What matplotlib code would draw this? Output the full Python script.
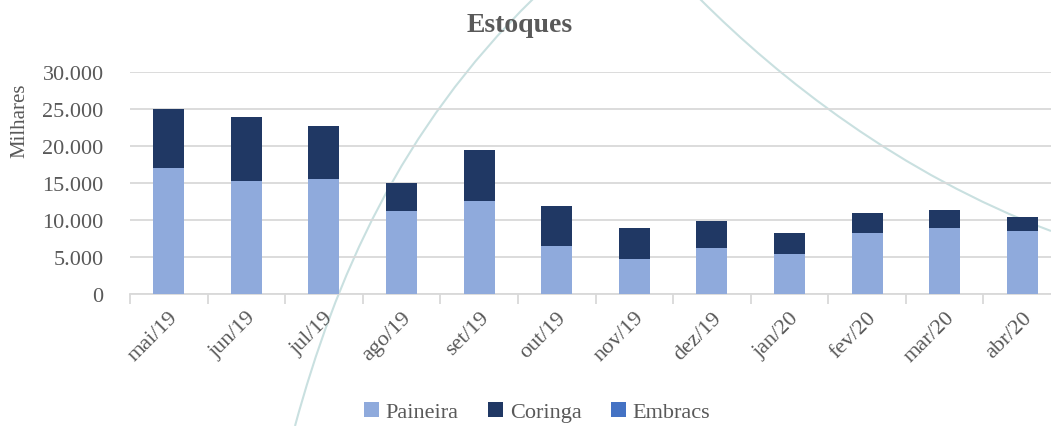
import numpy as np
import matplotlib
matplotlib.use('Agg')
import matplotlib.pyplot as plt
from matplotlib.path import Path
from matplotlib.patches import PathPatch
from matplotlib.ticker import FuncFormatter, FixedLocator

plt.rcParams['font.family'] = ['Liberation Serif', 'DejaVu Serif']

meses = ['mai/19', 'jun/19', 'jul/19', 'ago/19', 'set/19', 'out/19',
         'nov/19', 'dez/19', 'jan/20', 'fev/20', 'mar/20', 'abr/20']
paineira = [17000, 15250, 15500, 11150, 12550, 6500, 4750, 6250, 5350, 8200, 8850, 8450]
coringa = [8000, 8650, 7150, 3850, 6950, 5350, 4100, 3600, 2850, 2750, 2550, 1950]
embracs = [0, 0, 0, 0, 0, 0, 0, 0, 0, 0, 0, 0]

# background decoration of the slide: two bezier arcs (pixel coords)
arco1 = [(295, 427), (335, 280), (400, 130), (533, 0)]
arco2 = [(700, 0), (780, 80), (900, 175), (1051, 232)]

cinza = '#595959'
W, H = 1051, 427

fig = plt.figure(figsize=(W / 100, H / 100), dpi=100)
for arco in [arco1, arco2]:
    pts = [(px / W, 1 - py / H) for px, py in arco]
    path = Path(pts, [Path.MOVETO, Path.CURVE4, Path.CURVE4, Path.CURVE4])
    fig.add_artist(PathPatch(path, transform=fig.transFigure, fill=False,
                             edgecolor='#C9E0E0', lw=1.5, zorder=0))

ax = fig.add_axes([130 / W, 132 / H, 931 / W, 222.3 / H])
ax.patch.set_alpha(0)
ax.set_zorder(2)

x = np.arange(len(meses))
p = np.array(paineira)
c = np.array(coringa)
ax.bar(x, p, width=0.4, color='#8FAADC', label='Paineira', zorder=3)
ax.bar(x, c, width=0.4, bottom=p, color='#203864', label='Coringa', zorder=3)
ax.bar(x, embracs, width=0.4, bottom=p + c, color='#4472C4', label='Embracs', zorder=3)

ax.set_xlim(-0.5, len(meses) - 0.5)
ax.set_ylim(0, 30000)
ax.set_yticks(np.arange(0, 30001, 5000))
ax.yaxis.set_major_formatter(FuncFormatter(lambda v, _: f'{int(v):,}'.replace(',', '.')))
ax.grid(axis='y', color='#D9D9D9', lw=1.3, zorder=0)
ax.tick_params(axis='y', length=0, pad=19, labelsize=16, labelcolor=cinza)

ax.set_xticks(x)
ax.set_xticklabels(meses, rotation=45, ha='right', rotation_mode='anchor')
ax.tick_params(axis='x', which='major', length=0, pad=10, labelsize=16, labelcolor=cinza)
ax.xaxis.set_minor_locator(FixedLocator(np.arange(-0.5, len(meses), 1)))
ax.tick_params(axis='x', which='minor', length=7, color='#D9D9D9', width=1.3)

for s in ['top', 'right', 'left']:
    ax.spines[s].set_visible(False)
ax.spines['bottom'].set_color('#D9D9D9')
ax.spines['bottom'].set_linewidth(1.3)

fig.text(20 / W, 1 - 121 / H, 'Milhares', rotation=90, ha='center', va='center',
         fontsize=15, color=cinza)
fig.text(520 / W, 1 - 25 / H, 'Estoques', ha='center', va='center',
         fontsize=20, fontweight='bold', color=cinza)

h, l = ax.get_legend_handles_labels()
fig.legend(h, l, loc='center', bbox_to_anchor=(537 / W, 1 - 413 / H), ncol=3,
           frameon=False, fontsize=16, labelcolor=cinza, handlelength=0.7,
           handleheight=0.7, handletextpad=0.3, columnspacing=1.3)

fig.savefig('out.png', dpi=100)
